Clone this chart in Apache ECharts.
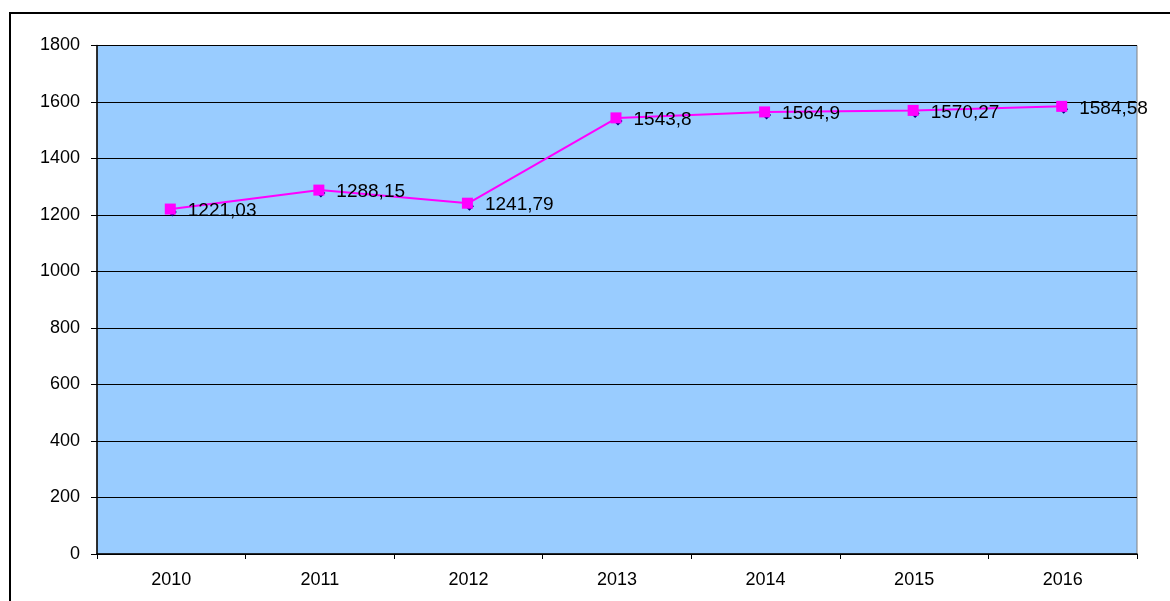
<!DOCTYPE html>
<html><head><meta charset="utf-8">
<script src="https://cdn.jsdelivr.net/npm/echarts@6/dist/echarts.min.js"></script>
<style>html,body{margin:0;padding:0;background:#fff}#c{width:1170px;height:601px}</style>
</head><body><div id="c"></div>
<script>
const categories = ['2010','2011','2012','2013','2014','2015','2016'];
const values = [1221.03, 1288.15, 1241.79, 1543.8, 1564.9, 1570.27, 1584.58];
const yTicks = {min: 0, max: 1800, interval: 200};

const chart = echarts.init(document.getElementById('c'));
chart.setOption({
  animation: false,
  backgroundColor: '#fff',
  graphic: [{
    type: 'rect', z: 100, silent: true,
    shape: {x: 10, y: 13, width: 1300, height: 800},
    style: {fill: 'none', stroke: '#000', lineWidth: 2}
  }],
  grid: {left: 97, top: 45.5, right: 33, bottom: 47, show: true, backgroundColor: '#99CCFF', borderColor: '#808080', borderWidth: 1},
  xAxis: {
    type: 'category', data: categories, boundaryGap: true,
    axisLine: {lineStyle: {color: '#000', width: 1.5}},
    axisTick: {show: true, alignWithLabel: false, length: 5, lineStyle: {color: '#000'}},
    axisLabel: {color: '#000', fontFamily: 'Liberation Sans, Arial', fontSize: 18, margin: 17},
    splitLine: {show: false}
  },
  yAxis: {
    type: 'value', min: yTicks.min, max: yTicks.max, interval: yTicks.interval,
    axisLine: {show: true, lineStyle: {color: '#000', width: 1.5}},
    axisTick: {show: true, length: 6, lineStyle: {color: '#000'}},
    axisLabel: {color: '#000', fontFamily: 'Liberation Sans, Arial', fontSize: 18, margin: 17,
      formatter: v => String(v)},
    splitLine: {show: true, lineStyle: {color: '#000', width: 1}}
  },
  series: [{
    type: 'line', data: values, symbol: 'diamond', symbolSize: 9, symbolOffset: [1, 3],
    lineStyle: {width: 0}, itemStyle: {color: '#000080'}, z: 2
  }, {
    type: 'line', data: values, symbol: 'rect', symbolSize: 11, symbolOffset: [-1, 0],
    lineStyle: {color: '#FF00FF', width: 2}, itemStyle: {color: '#FF00FF'}, z: 3,
    label: {
      show: true, position: 'right', distance: 12, color: '#000',
      fontFamily: 'Liberation Sans, Arial', fontSize: 19, offset: [0, 2],
      formatter: p => String(p.value).replace('.', ',')
    }
  }]
});
</script></body></html>
